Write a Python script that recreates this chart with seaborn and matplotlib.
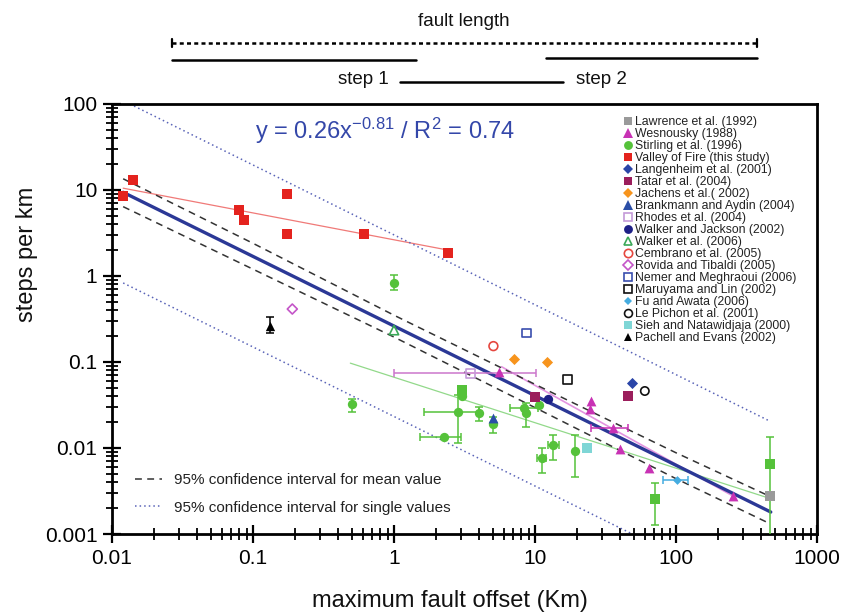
"""
Steps per km vs maximum fault offset (log-log), with regression line,
confidence bands and the literature compilation.
"""

import matplotlib

matplotlib.use("Agg")
import matplotlib.pyplot as plt
import numpy as np
import seaborn as sns
from matplotlib.lines import Line2D
from matplotlib.ticker import FuncFormatter, LogLocator, NullFormatter

W, H = 845, 613

# ---- data: x = max fault offset (km), y = steps per km ----
lawrence_x = [466]
lawrence_y = [0.0028]

wesnousky_x = [5.6, 25.1, 24.4, 35.8, 40.4, 64.6, 255]
wesnousky_y = [0.077, 0.0352, 0.0282, 0.0169, 0.0097, 0.0059, 0.0028]
wesnousky_xlo = [None, None, None, 25.1, None, None, None]
wesnousky_xhi = [None, None, None, 45.4, None, None, None]

stirling_x = [0.50, 1.0, 2.27, 2.83, 3.04, 4.03, 5.07, 8.3, 8.6, 10.6, 11.2, 13.4, 19.3]
stirling_y = [0.0325, 0.83, 0.0135, 0.0264, 0.040, 0.0253, 0.019, 0.029, 0.0253,
              0.0316, 0.0077, 0.0108, 0.0093]
stirling_xlo = [None, None, 1.54, 1.62, None, None, None, 6.6, None, None, 10.4, 12.4, None]
stirling_xhi = [None, None, 2.99, 4.0, None, None, None, 10.5, None, None, 11.9, 14.8, None]
stirling_ylo = [0.026, 0.68, None, 0.0114, None, 0.0208, 0.0148, None, 0.0176, None,
                0.0051, 0.0073, 0.0046]
stirling_yhi = [0.0375, 1.03, None, 0.041, None, 0.0303, 0.0232, None, 0.033, None,
                0.0100, 0.0142, 0.0142]

# green squares (same colour as Stirling, no legend entry)
green_sq_x = [3.04, 70.8, 466]
green_sq_y = [0.047, 0.00253, 0.0066]
green_sq_ylo = [0.039, 0.00128, 0.0008]
green_sq_yhi = [0.053, 0.0039, 0.0133]

valley_x = [0.012, 0.014, 0.080, 0.087, 0.175, 0.175, 0.61, 2.43]
valley_y = [8.6, 13.1, 5.85, 4.5, 8.9, 3.1, 3.1, 1.84]

langenheim_x = [48.9]
langenheim_y = [0.0565]
tatar_x = [10.0, 45.3]
tatar_y = [0.0388, 0.0403]
jachens_x = [7.1, 12.2]
jachens_y = [0.107, 0.101]
brankmann_x = [5.07]
brankmann_y = [0.0226]
rhodes_x = [3.5]
rhodes_y = [0.074]
rhodes_xlo = [1.0]
rhodes_xhi = [10.2]
walker_jackson_x = [12.4]
walker_jackson_y = [0.0371]
walker06_x = [1.0]
walker06_y = [0.235]
cembrano_x = [5.07]
cembrano_y = [0.153]
rovida_x = [0.19]
rovida_y = [0.413]
nemer_x = [8.65]
nemer_y = [0.217]
maruyama_x = [16.9]
maruyama_y = [0.063]
fu_x = [102]
fu_y = [0.00425]
fu_xlo = [81]
fu_xhi = [122]
lepichon_x = [60.1]
lepichon_y = [0.046]
sieh_x = [23.5]
sieh_y = [0.0099]
pachell_x = [0.133]
pachell_y = [0.264]
pachell_ylo = [0.22]
pachell_yhi = [0.33]

# regression line and bands (end / sample points)
fit_x = [0.012, 470]
fit_y = [9.4, 0.0018]
mean_ci_x = [0.012, 0.1, 1, 10, 100, 450]
mean_ci_hi = [13.5, 2.4, 0.35, 0.055, 0.0088, 0.0028]
mean_ci_lo = [6.4, 1.2, 0.195, 0.0295, 0.0044, 0.00135]
single_hi_x = [0.0134, 450]
single_hi_y = [100, 0.021]
single_lo_x = [0.012, 49]
single_lo_y = [0.83, 0.001]

valley_fit_x = [0.012, 2.5]
valley_fit_y = [10.5, 1.98]
stirling_fit_x = [0.49, 460]
stirling_fit_y = [0.097, 0.0026]
wesnousky_fit_x = [5.8, 250]
wesnousky_fit_y = [0.088, 0.0028]

EQUATION = r"y = 0.26x$^{-0.81}$ / R$^{2}$ = 0.74"

GREEN = "#55c23a"
MAGENTA = "#c832b4"
BLUE_FIT = "#2b3896"

# (label, x, y, marker, colour, filled, size)
STUDIES = [
    ("Lawrence et al. (1992)", lawrence_x, lawrence_y, "s", "#9a9a9a", True, 42),
    ("Wesnousky (1988)", wesnousky_x, wesnousky_y, "^", MAGENTA, True, 50),
    ("Stirling et al. (1996)", stirling_x, stirling_y, "o", GREEN, True, 45),
    ("Valley of Fire (this study)", valley_x, valley_y, "s", "#e4231e", True, 45),
    ("Langenheim et al. (2001)", langenheim_x, langenheim_y, "D", "#2a45a8", True, 32),
    ("Tatar et al. (2004)", tatar_x, tatar_y, "s", "#9b1e5c", True, 45),
    ("Jachens et al.( 2002)", jachens_x, jachens_y, "D", "#f7941d", True, 32),
    ("Brankmann and Aydin (2004)", brankmann_x, brankmann_y, "^", "#2a4ea6", True, 50),
    ("Rhodes et al. (2004)", rhodes_x, rhodes_y, "s", "#c49ad8", False, 40),
    ("Walker and Jackson (2002)", walker_jackson_x, walker_jackson_y, "o", "#1d1f86", True, 45),
    ("Walker et al. (2006)", walker06_x, walker06_y, "^", "#3aa858", False, 45),
    ("Cembrano et al. (2005)", cembrano_x, cembrano_y, "o", "#e5473f", False, 40),
    ("Rovida and Tibaldi (2005)", rovida_x, rovida_y, "D", "#c455c8", False, 26),
    ("Nemer and Meghraoui (2006)", nemer_x, nemer_y, "s", "#3a4eae", False, 40),
    ("Maruyama and Lin (2002)", maruyama_x, maruyama_y, "s", "#111111", False, 40),
    ("Fu and Awata (2006)", fu_x, fu_y, "D", "#45ace0", True, 20),
    ("Le Pichon et al. (2001)", lepichon_x, lepichon_y, "o", "#111111", False, 36),
    ("Sieh and Natawidjaja (2000)", sieh_x, sieh_y, "s", "#7fd6d6", True, 42),
    ("Pachell and Evans (2002)", pachell_x, pachell_y, "^", "#000000", True, 45),
]


def fig_xy(px, py):
    """Pixel position in the 845x613 image -> figure fraction."""
    return px / W, 1 - py / H


def nan_array(values):
    return np.array([np.nan if v is None else v for v in values], dtype=float)


def draw_errors(ax, x, y, color, xlo=None, xhi=None, ylo=None, yhi=None):
    x = np.asarray(x, dtype=float)
    y = np.asarray(y, dtype=float)
    n = len(x)
    xlo = nan_array(xlo) if xlo is not None else np.full(n, np.nan)
    xhi = nan_array(xhi) if xhi is not None else np.full(n, np.nan)
    ylo = nan_array(ylo) if ylo is not None else np.full(n, np.nan)
    yhi = nan_array(yhi) if yhi is not None else np.full(n, np.nan)
    for i in range(n):
        xerr = None
        yerr = None
        if not np.isnan(xlo[i]):
            xerr = [[x[i] - xlo[i]], [xhi[i] - x[i]]]
        if not np.isnan(ylo[i]):
            yerr = [[y[i] - ylo[i]], [yhi[i] - y[i]]]
        if xerr is None and yerr is None:
            continue
        ax.errorbar([x[i]], [y[i]], xerr=xerr, yerr=yerr, fmt="none", ecolor=color,
                    elinewidth=1.1, capsize=3, capthick=1.1, zorder=3)


def draw_lines(ax):
    # study trend lines (thin)
    sns.lineplot(x=valley_fit_x, y=valley_fit_y, ax=ax, color="#f07a78", lw=0.9, zorder=2)
    sns.lineplot(x=stirling_fit_x, y=stirling_fit_y, ax=ax, color="#92d98a", lw=0.9, zorder=2)
    sns.lineplot(x=wesnousky_fit_x, y=wesnousky_fit_y, ax=ax, color="#e394e0", lw=1.2, zorder=2)

    # confidence bands
    for ys in (mean_ci_hi, mean_ci_lo):
        ax.plot(mean_ci_x, ys, color="#333333", lw=1.1, dashes=(4.5, 3.5), zorder=2)
    ax.plot(single_hi_x, single_hi_y, color="#5a64b8", lw=1.1, dashes=(1, 2), zorder=2)
    ax.plot(single_lo_x, single_lo_y, color="#5a64b8", lw=1.1, dashes=(1, 2), zorder=2)

    # main regression
    sns.lineplot(x=fit_x, y=fit_y, ax=ax, color=BLUE_FIT, lw=2.4, zorder=2.5)


def draw_points(ax):
    draw_errors(ax, stirling_x, stirling_y, GREEN, stirling_xlo, stirling_xhi,
                stirling_ylo, stirling_yhi)
    draw_errors(ax, green_sq_x, green_sq_y, GREEN, ylo=green_sq_ylo, yhi=green_sq_yhi)
    draw_errors(ax, wesnousky_x, wesnousky_y, MAGENTA, wesnousky_xlo, wesnousky_xhi)
    draw_errors(ax, rhodes_x, rhodes_y, "#cc77cc", rhodes_xlo, rhodes_xhi)
    draw_errors(ax, fu_x, fu_y, "#45ace0", fu_xlo, fu_xhi)
    draw_errors(ax, pachell_x, pachell_y, "#000000", ylo=pachell_ylo, yhi=pachell_yhi)

    sns.scatterplot(x=green_sq_x, y=green_sq_y, ax=ax, marker="s", color=GREEN,
                    s=42, linewidth=0, zorder=4)

    handles = []
    for label, xs, ys, marker, color, filled, size in STUDIES:
        if filled:
            sns.scatterplot(x=xs, y=ys, ax=ax, marker=marker, color=color, s=size,
                            linewidth=0, zorder=4)
        else:
            sns.scatterplot(x=xs, y=ys, ax=ax, marker=marker, color=color, s=size,
                            facecolor="none", edgecolor=color, linewidth=1.2, zorder=4)
        handles.append(Line2D([], [], linestyle="none", marker=marker,
                              markersize=np.sqrt(size) * 0.95,
                              markerfacecolor=color if filled else "none",
                              markeredgecolor=color,
                              markeredgewidth=0 if filled else 1.2,
                              label=label))
    return handles


def style_axes(ax):
    ax.set_xscale("log")
    ax.set_yscale("log")
    ax.set_xlim(0.01, 1000)
    ax.set_ylim(0.001, 100)
    fmt = FuncFormatter(lambda v, _: f"{v:g}")
    for axis in (ax.xaxis, ax.yaxis):
        axis.set_major_locator(LogLocator(base=10, numticks=20))
        axis.set_minor_locator(LogLocator(base=10, subs=np.arange(2, 10), numticks=20))
        axis.set_major_formatter(fmt)
        axis.set_minor_formatter(NullFormatter())
    ax.tick_params(which="major", direction="inout", length=13, width=1.6,
                   labelsize=15, pad=4, color="black", labelcolor="black")
    ax.tick_params(which="minor", direction="inout", length=8, width=1.3, color="black")
    ax.tick_params(top=False, right=False, which="both")
    for sp in ax.spines.values():
        sp.set_linewidth(2)
        sp.set_color("black")

    ax.set_xlabel("maximum fault offset (Km)", fontsize=17, color="#111111")
    ax.set_ylabel("steps per km", fontsize=17, color="#111111")
    ax.xaxis.set_label_coords(0.48, -0.13)
    ax.yaxis.set_label_coords(-0.105, 0.65)


def draw_header(fig):
    def line(x0, x1, y0, y1, **kw):
        (a, b), (c, d) = fig_xy(x0, y0), fig_xy(x1, y1)
        fig.add_artist(Line2D([a, c], [b, d], transform=fig.transFigure, color="black", **kw))

    line(172, 757, 43, 43, lw=1.8, dashes=(1.6, 1.3))
    line(172, 172, 39, 47, lw=1.6)
    line(757, 757, 39, 47, lw=1.6)
    line(172, 416, 60, 60, lw=1.8)
    line(546, 757, 58, 58, lw=1.8)
    line(400, 563, 82, 82, lw=1.8)

    for txt, px, py in [("fault length", 464, 21), ("step 1", 363, 79), ("step 2", 601, 79)]:
        fx, fy = fig_xy(px, py)
        fig.text(fx, fy, txt, ha="center", va="center", fontsize=13.5, color="#111111")


def main():
    sns.set_theme(style="ticks")
    plt.rcParams["font.family"] = ["Liberation Sans", "DejaVu Sans"]
    plt.rcParams["mathtext.default"] = "regular"

    fig = plt.figure(figsize=(W / 100, H / 100), dpi=100)
    ax = fig.add_axes([112 / W, 1 - 534 / H, (817 - 112) / W, (534 - 104) / H])

    draw_lines(ax)
    handles = draw_points(ax)
    style_axes(ax)

    ax.text((255 - 112) / 705, 1 - (131 - 104) / 430, EQUATION, transform=ax.transAxes,
            ha="left", va="center", fontsize=17, color="#3447a9")

    leg1 = ax.legend(handles=handles, loc="upper left", bbox_to_anchor=(0.724, 0.971),
                     frameon=False, fontsize=8.8, labelspacing=0.0, handlelength=0.9,
                     handletextpad=0.15, borderpad=0, borderaxespad=0)
    for t in leg1.get_texts():
        t.set_color("#222222")
    ax.add_artist(leg1)

    ci_handles = [
        Line2D([], [], color="#333333", lw=1.1, dashes=(4.5, 3.5),
               label="95% confidence interval for mean value"),
        Line2D([], [], color="#5a64b8", lw=1.1, dashes=(1, 2),
               label="95% confidence interval for single values"),
    ]
    leg2 = ax.legend(handles=ci_handles, loc="upper left", bbox_to_anchor=(0.032, 0.142),
                     frameon=False, fontsize=11, labelspacing=0.9, handlelength=1.8,
                     handletextpad=0.75, borderpad=0, borderaxespad=0)
    for t in leg2.get_texts():
        t.set_color("#222222")

    draw_header(fig)
    fig.savefig("out.png", dpi=100)
    plt.close(fig)


if __name__ == "__main__":
    main()
